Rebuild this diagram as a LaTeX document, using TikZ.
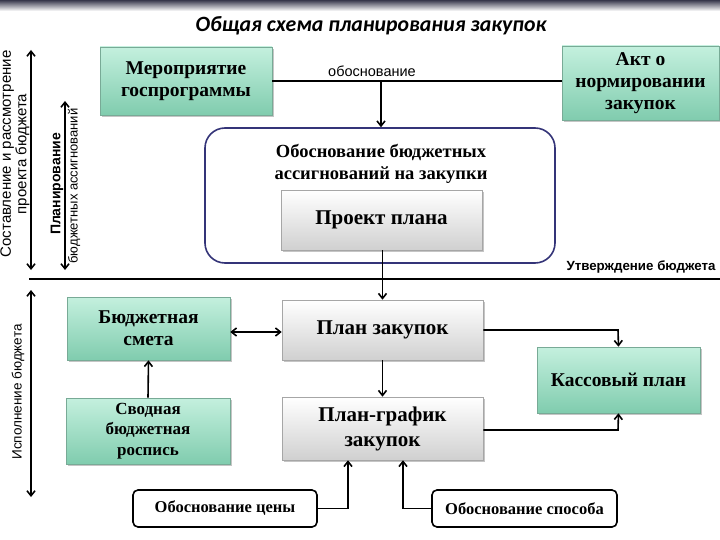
\documentclass[tikz,border=0pt]{standalone}
\usepackage{fontspec}
\setmainfont{Liberation Serif}
\setsansfont{Liberation Sans}
\newfontfamily\titlefont{Carlito}
\usetikzlibrary{arrows.meta,shadows}
\definecolor{gtop}{RGB}{196,240,222}
\definecolor{gbot}{RGB}{128,204,174}
\definecolor{gedge}{RGB}{120,170,150}
\definecolor{wtop}{RGB}{255,255,255}
\definecolor{wbot}{RGB}{208,208,208}
\definecolor{frameblue}{RGB}{52,52,120}
\definecolor{bandtop}{RGB}{55,55,75}
\tikzset{
  shad/.style={drop shadow={opacity=0.45,shadow xshift=1.5pt,shadow yshift=-2pt}},
  greenbox/.style={shad,draw=gedge,line width=0.6pt,top color=gtop,bottom color=gbot,
    align=center,inner sep=2pt,font=\bfseries\fontsize{19.5}{22}\selectfont},
  graybox/.style={shad,draw=black!35,line width=0.6pt,top color=wtop,bottom color=wbot,
    align=center,inner sep=2pt,font=\bfseries\fontsize{21}{25}\selectfont},
  whitebox/.style={draw=black,line width=1.6pt,rounded corners=5pt,fill=white,
    align=center,font=\bfseries\fontsize{16.5}{19}\selectfont},
  conn/.style={line width=1.6pt,draw=black},
  arr/.style={conn,-{Straight Barb[length=5pt,width=8pt]}},
  darr/.style={conn,{Straight Barb[length=5pt,width=8pt]}-{Straight Barb[length=5pt,width=8pt]}},
  sidelab/.style={rotate=90,align=center,font=\sffamily\fontsize{13.5}{16}\selectfont}
}
\begin{document}
\begin{tikzpicture}[x=1pt,y=-1pt]
\useasboundingbox (0,0) rectangle (720,540);
\fill[white] (0,0) rectangle (720,540);
\shade[top color=bandtop,bottom color=white] (0,0) rectangle (720,11);
% title
\node[font=\titlefont\bfseries\itshape\fontsize{21.8}{24}\selectfont] (title) at (371,26) {Общая схема планирования закупок};
% top boxes
\node[greenbox,minimum width=172pt,minimum height=68pt] (mer) at (186,81) {Мероприятие\\госпрограммы};
\node[greenbox,minimum width=157pt,minimum height=74pt] (akt) at (640.5,83) {Акт о\\нормировании\\закупок};
\draw[conn] (mer.east) -- (mer.east -| akt.west);
\node[font=\sffamily\fontsize{14.5}{16}\selectfont] (obos) at (372,71) {обоснование};
\coordinate (j1) at (381,81);
% frame
\node[draw=frameblue,line width=1.6pt,rounded corners=20pt,minimum width=350pt,minimum height=135pt] (frame) at (380,195.5) {};
\draw[arr] (j1) -- (j1 |- frame.north);
\node[font=\bfseries\fontsize{18.5}{22.5}\selectfont,align=center] (obtxt) at (381,164) {Обоснование бюджетных\\ассигнований на закупки};
\node[graybox,minimum width=201pt,minimum height=60pt] (proj) at (381.5,220) {Проект плана};
% approval line
\coordinate (aL) at (29,279);
\coordinate (aR) at (720,279);
\draw[conn] (aL) -- (aR);
\node[font=\sffamily\bfseries\fontsize{13.3}{15}\selectfont,anchor=east] (utv) at (719,267) {Утверждение бюджета};
% lower boxes
\node[graybox,minimum width=201pt,minimum height=60pt] (plan) at (382.5,330) {План закупок};
\node[graybox,minimum width=201pt,minimum height=63pt] (pg) at (382.5,428.5) {План-график\\закупок};
\node[greenbox,minimum width=163pt,minimum height=63pt] (smeta) at (148.5,328.5) {Бюджетная\\смета};
\node[greenbox,minimum width=164pt,minimum height=66pt,font=\bfseries\fontsize{17}{20.5}\selectfont] (svod) at (148,431) {Сводная\\бюджетная\\роспись};
\node[greenbox,minimum width=163pt,minimum height=66pt] (kass) at (618.5,380) {Кассовый план};
\node[whitebox,minimum width=184pt,minimum height=37pt] (cena) at (225,508.5) {Обоснование цены};
\node[whitebox,minimum width=185pt,minimum height=37pt] (sposob) at (524.5,508.5) {Обоснование способа};
% connectors
\draw[arr] (proj.south -| plan.north) -- (plan.north);
\draw[darr] (smeta.east |- 0,332) -- (plan.west |- 0,332);
\draw[arr] (svod.north) -- (smeta.south);
\draw[arr] (plan.south) -- (pg.north);
\coordinate (k1) at (618,330);
\draw[arr] (plan.east |- k1) -- (k1) -- (kass.north);
\coordinate (k2) at (618,430);
\draw[arr] (pg.east |- k2) -- (k2) -- (kass.south);
\coordinate (c1) at (348,508.5);
\draw[arr] (cena.east) -- (c1) -- (c1 |- pg.south);
\coordinate (s1) at (403,508.5);
\draw[arr] (sposob.west) -- (s1) -- (s1 |- pg.south);
% side arrows and labels
\coordinate (l1t) at (31,50);
\coordinate (l1b) at (31,270);
\draw[darr] (l1t) -- (l1b);
\node[sidelab,font=\sffamily\fontsize{15}{15.5}\selectfont] (lab1) at (15,154) {Составление и рассмотрение\\проекта бюджета};
\coordinate (l2t) at (65,101);
\coordinate (l2b) at (65,270);
\draw[darr] (l2t) -- (l2b);
\node[sidelab,font=\sffamily\bfseries\fontsize{14}{16}\selectfont] (lab2a) at (57,184) {Планирование};
\node[sidelab,font=\sffamily\fontsize{13}{15}\selectfont] (lab2b) at (74,186) {бюджетных ассигнований};
\coordinate (l3t) at (31,290);
\coordinate (l3b) at (31,497);
\draw[darr] (l3t) -- (l3b);
\node[sidelab] (lab3) at (18,392) {Исполнение бюджета};
\end{tikzpicture}
\end{document}
